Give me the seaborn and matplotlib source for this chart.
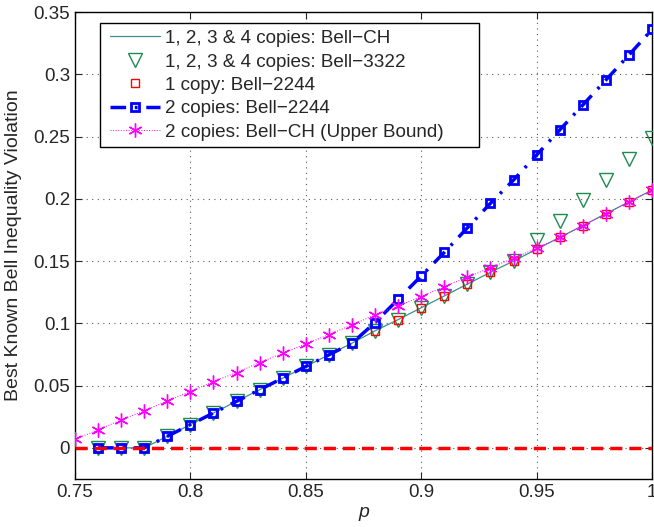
import matplotlib
matplotlib.use("Agg")
import matplotlib.pyplot as plt
from matplotlib.patches import Rectangle
import numpy as np
import pandas as pd
import seaborn as sns

# --- dati ---
p_vals = [0.75, 0.76, 0.77, 0.78, 0.79, 0.80, 0.81, 0.82, 0.83, 0.84, 0.85, 0.86, 0.87,
          0.88, 0.89, 0.90, 0.91, 0.92, 0.93, 0.94, 0.95, 0.96, 0.97, 0.98, 0.99, 1.00]

# Bell-CH (1,2,3 & 4 copie) e Bell-2244 (1 copia): partono da p = 0.76
bell_ch = [0.0, 0.0, 0.0, 0.0093, 0.0187, 0.028, 0.0374, 0.0467, 0.056, 0.0654, 0.0747, 0.0841,
           0.094, 0.103, 0.1125, 0.122, 0.1315, 0.141, 0.150, 0.1595, 0.169, 0.1785, 0.188,
           0.1975, 0.207]
bell_3322 = [0.0, 0.0, 0.0, 0.0093, 0.0187, 0.028, 0.0374, 0.0467, 0.056, 0.0654, 0.0747, 0.0841,
             0.094, 0.103, 0.1125, 0.122, 0.1315, 0.141, 0.150, 0.167, 0.182, 0.199, 0.2155,
             0.232, 0.249]
bell_2244_1 = list(bell_ch)
bell_2244_2 = [0.0, 0.0, 0.0, 0.0093, 0.0187, 0.028, 0.0374, 0.0467, 0.056, 0.0654, 0.0747, 0.0841,
               0.1006, 0.1194, 0.138, 0.157, 0.1767, 0.1964, 0.2151, 0.2352, 0.2553, 0.2753,
               0.2954, 0.3155, 0.336]
# 2 copie Bell-CH (upper bound): parte da p = 0.75
bell_ch_ub = [0.007, 0.0144, 0.0225, 0.0297, 0.0377, 0.0452, 0.0532, 0.0605, 0.0685, 0.076,
              0.0835, 0.0909, 0.0988, 0.1068, 0.114, 0.1215, 0.1295, 0.137, 0.1448, 0.1523,
              0.1603, 0.169, 0.1785, 0.188, 0.1975, 0.207]
zero_line = [0.0] * len(p_vals)

sns.set_style("ticks")
plt.rcParams['font.family'] = ['Liberation Sans', 'DejaVu Sans']

fig = plt.figure(figsize=(6.54, 5.27), dpi=100)
ax = fig.add_axes([0.1147, 0.0911, 0.8823, 0.8861])

p_short = p_vals[1:]
df = pd.DataFrame({"p": p_short, "ch": bell_ch, "b3322": bell_3322,
                   "b2244_1": bell_2244_1, "b2244_2": bell_2244_2})
df_ub = pd.DataFrame({"p": p_vals, "ub": bell_ch_ub, "zero": zero_line})

sns.lineplot(data=df, x="p", y="ch", ax=ax, color="#3f8f8f", lw=0.9,
             label="1, 2, 3 & 4 copies: Bell\u2212CH", zorder=3)
sns.lineplot(data=df, x="p", y="b3322", ax=ax, linestyle="none", marker="v",
             markersize=10, markerfacecolor="none", markeredgecolor="#1e8c4e",
             markeredgewidth=1.0, color="#1e8c4e",
             label="1, 2, 3 & 4 copies: Bell\u22123322", zorder=4)
sns.lineplot(data=df, x="p", y="b2244_1", ax=ax, linestyle="none", marker="s",
             markersize=5.5, markerfacecolor="none", markeredgecolor="red",
             markeredgewidth=1.0, color="red",
             label="1 copy: Bell\u22122244", zorder=5)
sns.lineplot(data=df, x="p", y="b2244_2", ax=ax, color="blue", lw=2.5,
             linestyle="-.", marker="s", markersize=6,
             markerfacecolor="none", markeredgecolor="blue", markeredgewidth=2.0,
             label="2 copies: Bell\u22122244", zorder=6)
ax.lines[-1].set_dashes([4.5, 2.5, 0.8, 2.5])
sns.lineplot(data=df_ub, x="p", y="ub", ax=ax, color="magenta", lw=0.7, linestyle=":",
             marker=(6, 2, 0), markersize=10, markeredgecolor="magenta",
             markeredgewidth=1.0, label="2 copies: Bell\u2212CH (Upper Bound)", zorder=7)
sns.lineplot(data=df_ub, x="p", y="zero", ax=ax, color="red", lw=2.5,
             linestyle="--", zorder=8)
ax.lines[-1].set_dashes([3.5, 2])

ax.set_xlim(0.75, 1.0)
ax.set_ylim(-0.025, 0.35)
ax.set_xticks([0.75, 0.8, 0.85, 0.9, 0.95, 1.0])
ax.set_xticklabels(["0.75", "0.8", "0.85", "0.9", "0.95", "1"])
ax.set_yticks([0, 0.05, 0.1, 0.15, 0.2, 0.25, 0.3, 0.35])
ax.set_yticklabels(["0", "0.05", "0.1", "0.15", "0.2", "0.25", "0.3", "0.35"])
ax.tick_params(direction="in", top=True, right=True, labelsize=13.5, length=5, width=0.8)
ax.grid(True, linestyle=(0, (1, 4)), color="0.35", lw=0.8, zorder=0)
ax.set_axisbelow(True)
for sp in ax.spines.values():
    sp.set_linewidth(1.0)
    sp.set_color("black")

ax.set_xlabel("p", fontsize=14, style="italic", labelpad=2)
ax.set_ylabel("Best Known Bell Inequality Violation", fontsize=14, labelpad=8)

# legenda senza cornice + box disegnato a mano (più largo del testo, stile MATLAB)
leg = ax.legend(loc="upper left", bbox_to_anchor=(0.05, 0.976), fontsize=13.6,
                frameon=False, borderpad=0.35, labelspacing=0.33, handlelength=2.6,
                handletextpad=0.3, borderaxespad=0)
leg.set_zorder(10)
ax.add_patch(Rectangle((0.0433, 0.711), 0.657, 0.265, transform=ax.transAxes,
                       facecolor="white", edgecolor="black", lw=1.0, zorder=9.5))

fig.savefig("out.png", dpi=100)
